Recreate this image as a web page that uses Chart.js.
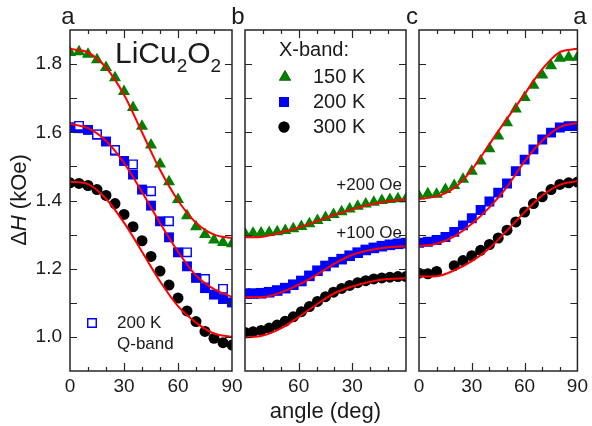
<!DOCTYPE html>
<html>
<head>
<meta charset="utf-8">
<script src="https://cdn.jsdelivr.net/npm/chart.js@4.4.1/dist/chart.umd.min.js"></script>
<style>
  html, body { margin: 0; padding: 0; background: #fff; }
  #wrap { position: relative; width: 592px; height: 426px; }
  #wrap canvas { position: absolute; left: 0; top: 0; }
</style>
</head>
<body>
<div id="wrap">
  <canvas id="panelA" width="592" height="426"></canvas>
  <canvas id="panelB" width="592" height="426"></canvas>
  <canvas id="panelC" width="592" height="426"></canvas>
</div>
<script>
// angles (deg)
var angles = [0, 5, 10, 15, 20, 25, 30, 35, 40, 45, 50, 55, 60, 65, 70, 75, 80, 85, 90];
var qbandAngles = [5, 15, 25, 35, 45, 55, 65, 75, 85];
var fitAngles = [0, 10, 20, 30, 40, 50, 60, 70, 80, 90];
var anglesB = [0, 4.5, 9, 13.5, 18, 22.5, 27, 31.5, 36, 40.5, 45, 49.5, 54, 58.5, 63, 67.5, 72, 76.5, 81, 85.5, 90];
var blackCAngles = [0, 5, 10, 20, 25, 30, 35, 40, 45, 50, 55, 60, 65, 70, 75, 80, 85, 90];

// panel a  (ΔH, kOe)
var green150A = [1.834, 1.836, 1.829, 1.813, 1.79, 1.76, 1.72, 1.673, 1.618, 1.563, 1.507, 1.455, 1.403, 1.355, 1.323, 1.3, 1.284, 1.277, 1.273];
var blue200A = [1.615, 1.612, 1.607, 1.593, 1.573, 1.546, 1.516, 1.476, 1.432, 1.385, 1.339, 1.292, 1.248, 1.207, 1.173, 1.143, 1.124, 1.111, 1.101];
var black300A = [1.452, 1.45, 1.444, 1.432, 1.415, 1.391, 1.359, 1.323, 1.282, 1.236, 1.193, 1.152, 1.114, 1.076, 1.045, 1.016, 0.996, 0.983, 0.976];
var qband200A = [1.619, 1.594, 1.548, 1.506, 1.427, 1.339, 1.248, 1.17, 1.141];
var fit150A = [1.844, 1.834, 1.79, 1.71, 1.6, 1.49, 1.40, 1.335, 1.3, 1.29];
var fit200A = [1.625, 1.612, 1.575, 1.51, 1.425, 1.334, 1.25, 1.18, 1.14, 1.117];
var fit300A = [1.455, 1.448, 1.405, 1.335, 1.25, 1.163, 1.09, 1.042, 1.01, 1.0];

// panel b (angle axis runs 90 -> 0)
var green150B = [1.405, 1.405, 1.403, 1.4, 1.395, 1.39, 1.383, 1.375, 1.367, 1.359, 1.35, 1.341, 1.332, 1.324, 1.317, 1.312, 1.308, 1.306, 1.305, 1.304, 1.303];
var blue200B = [1.275, 1.273, 1.27, 1.266, 1.261, 1.255, 1.247, 1.238, 1.228, 1.219, 1.208, 1.194, 1.179, 1.164, 1.153, 1.143, 1.136, 1.131, 1.128, 1.127, 1.127];
var black300B = [1.177, 1.177, 1.175, 1.173, 1.17, 1.165, 1.159, 1.151, 1.142, 1.131, 1.118, 1.104, 1.089, 1.074, 1.059, 1.046, 1.035, 1.026, 1.019, 1.015, 1.013];
var fit150B = [1.403, 1.398, 1.388, 1.374, 1.358, 1.339, 1.321, 1.306, 1.294, 1.292];
var fit200B = [1.266, 1.263, 1.255, 1.241, 1.215, 1.182, 1.153, 1.13, 1.117, 1.116];
var fit300B = [1.172, 1.17, 1.162, 1.148, 1.128, 1.095, 1.058, 1.025, 1.004, 0.998];

// panel c
var green150C = [1.413, 1.42, 1.418, 1.432, 1.444, 1.462, 1.486, 1.516, 1.552, 1.589, 1.628, 1.668, 1.702, 1.738, 1.768, 1.795, 1.817, 1.82, 1.82];
var blue200C = [1.276, 1.279, 1.284, 1.293, 1.308, 1.327, 1.348, 1.372, 1.397, 1.423, 1.45, 1.486, 1.52, 1.55, 1.579, 1.599, 1.614, 1.618, 1.618];
var black300C = [1.187, 1.185, 1.192, 1.209, 1.224, 1.238, 1.254, 1.271, 1.29, 1.313, 1.337, 1.366, 1.391, 1.411, 1.432, 1.447, 1.452, 1.454];
var fit150C = [1.405, 1.412, 1.437, 1.49, 1.565, 1.64, 1.712, 1.785, 1.835, 1.845];
var fit200C = [1.266, 1.273, 1.295, 1.332, 1.38, 1.44, 1.515, 1.575, 1.615, 1.627];
var fit300C = [1.177, 1.178, 1.195, 1.222, 1.26, 1.312, 1.366, 1.415, 1.446, 1.457];

// ticks and labels
var yTickLabels = [1.0, 1.2, 1.4, 1.6, 1.8];
var yTickMarks = [1.0, 1.1, 1.2, 1.3, 1.4, 1.5, 1.6, 1.7, 1.8];
var xTickMarks = [10, 20, 30, 40, 50, 60, 70, 80];
var xMajor = [0, 30, 60, 90];
var xTicksA = [0, 30, 60, 90];
var xTicksB = [60, 30];
var xTicksC = [0, 30, 60, 90];
var seriesLabels = ['150 K', '200 K', '300 K'];

var FONT = "'Liberation Sans', Arial, sans-serif";
var INK = '#1a1a1a';
var GREEN = '#008000', BLUE = '#0000ff', BLACK = '#000000', RED = '#ff0000';
Chart.defaults.font.family = FONT;

function pts(xs, ys) {
  return xs.map(function (x, i) { return { x: x, y: ys[i] }; });
}

function markers(label, xs, ys, color, style, r) {
  return {
    label: label, data: pts(xs, ys), showLine: false,
    pointStyle: style, pointRadius: r, pointHoverRadius: r,
    backgroundColor: color, borderColor: color, borderWidth: 0, clip: 0
  };
}

function fitLine(xs, ys, rev) {
  var d = pts(xs, ys);
  if (rev) d = d.reverse(); // keep pixel order increasing on the reversed axis
  return {
    data: d, showLine: true, borderColor: RED, borderWidth: 2,
    pointRadius: 0, cubicInterpolationMode: 'monotone', fill: false, clip: 0
  };
}

// frame with inward ticks on all four sides
var frameTicks = {
  id: 'frameTicks',
  afterDatasetsDraw: function (chart) {
    var ctx = chart.ctx, a = chart.chartArea, x = chart.scales.x, y = chart.scales.y;
    ctx.save();
    ctx.strokeStyle = '#262626';
    ctx.lineWidth = 1.5;
    ctx.strokeRect(a.left, a.top, a.right - a.left, a.bottom - a.top);
    ctx.lineWidth = 1.2;
    ctx.beginPath();
    xTickMarks.forEach(function (v) {
      var px = Math.round(x.getPixelForValue(v)) + 0.5;
      var len = xMajor.indexOf(v) >= 0 ? 8 : 4;
      ctx.moveTo(px, a.bottom); ctx.lineTo(px, a.bottom - len);
      ctx.moveTo(px, a.top); ctx.lineTo(px, a.top + len);
    });
    yTickMarks.forEach(function (v) {
      var py = Math.round(y.getPixelForValue(v)) + 0.5;
      ctx.moveTo(a.left, py); ctx.lineTo(a.left + 7, py);
      ctx.moveTo(a.right, py); ctx.lineTo(a.right - 7, py);
    });
    ctx.stroke();
    ctx.restore();
  }
};

function drawRuns(ctx, runs, x, y, align) {
  var total = 0;
  runs.forEach(function (r) {
    ctx.font = (r.italic ? 'italic ' : '') + r.size + 'px ' + FONT;
    r.w = ctx.measureText(r.t).width;
    total += r.w;
  });
  var cx = align === 'center' ? x - total / 2 : (align === 'right' ? x - total : x);
  runs.forEach(function (r) {
    ctx.font = (r.italic ? 'italic ' : '') + r.size + 'px ' + FONT;
    ctx.textAlign = 'left';
    ctx.fillText(r.t, cx, y + (r.dy || 0));
    cx += r.w;
  });
}

// texts, symbols and legends
var notes = {
  id: 'notes',
  afterDraw: function (chart, args, opts) {
    var ctx = chart.ctx;
    (opts.items || []).forEach(function (it) {
      ctx.save();
      ctx.fillStyle = INK;
      if (it.sym) {
        Chart.helpers.drawPoint(ctx, {
          pointStyle: it.sym, radius: it.r, rotation: 0,
          borderWidth: it.bw || 0
        }, it.x, it.y);
        ctx.fillStyle = it.fill;
        ctx.strokeStyle = it.stroke || it.fill;
        ctx.lineWidth = it.bw || 0;
        ctx.fill();
        if (it.bw) ctx.stroke();
      } else if (it.runs) {
        ctx.textBaseline = it.baseline || 'alphabetic';
        if (it.rotate) {
          ctx.translate(it.x, it.y);
          ctx.rotate(it.rotate);
          drawRuns(ctx, it.runs, 0, 0, it.align);
        } else {
          drawRuns(ctx, it.runs, it.x, it.y, it.align);
        }
      } else {
        ctx.font = it.size + 'px ' + FONT;
        ctx.textAlign = it.align || 'left';
        ctx.textBaseline = 'middle';
        ctx.fillText(it.text, it.x, it.y);
      }
      ctx.restore();
    });
  }
};

function makePanel(id, cfg) {
  return new Chart(document.getElementById(id), {
    type: 'scatter',
    data: { datasets: cfg.datasets },
    options: {
      responsive: false,
      animation: false,
      events: [],
      layout: { padding: { left: cfg.left, right: cfg.right, top: 30, bottom: 0 } },
      plugins: {
        legend: { display: false },
        tooltip: { enabled: false },
        notes: { items: cfg.notes }
      },
      scales: {
        x: {
          type: 'linear', min: 0, max: 90, reverse: !!cfg.reverse,
          grid: { display: false, drawTicks: false },
          border: { display: false },
          ticks: {
            autoSkip: false, maxRotation: 0, padding: 4, color: INK,
            font: { size: 19 },
            callback: function (v) { return String(v); }
          },
          afterBuildTicks: function (s) { s.ticks = cfg.xTicks.map(function (v) { return { value: v }; }); },
          afterFit: function (s) { s.height = 55; },
          title: cfg.xTitle ? {
            display: true, text: cfg.xTitle, color: INK,
            font: { size: 22 }, padding: { top: 0, bottom: 1 }
          } : { display: false }
        },
        y: {
          type: 'linear', min: 0.9, max: 1.9, display: !!cfg.showY,
          grid: { display: false, drawTicks: false },
          border: { display: false },
          ticks: {
            padding: 8, color: INK, font: { size: 19 },
            callback: function (v) { return v.toFixed(1); }
          },
          afterBuildTicks: function (s) { s.ticks = yTickLabels.map(function (v) { return { value: v }; }); },
          afterFit: function (s) { s.width = cfg.showY ? 70 : 0; }
        }
      }
    },
    plugins: [frameTicks, notes]
  });
}

makePanel('panelA', {
  left: 0, right: 360, showY: true, xTicks: xTicksA,
  datasets: [
    fitLine(fitAngles, fit150A),
    fitLine(fitAngles, fit200A),
    fitLine(fitAngles, fit300A),
    Object.assign(markers('200 K Q-band', qbandAngles, qband200A, '#ffffff', 'rect', 6), { borderColor: BLUE, borderWidth: 1.4 }),
    markers(seriesLabels[0], angles, green150A, GREEN, 'triangle', 7),
    markers(seriesLabels[1], angles, blue200A, BLUE, 'rect', 7),
    markers(seriesLabels[2], angles, black300A, BLACK, 'circle', 5.5)
  ],
  notes: [
    { text: 'a', x: 68, y: 17, size: 24, align: 'center' },
    { runs: [{ t: 'LiCu', size: 30 }, { t: '2', size: 19, dy: 9 }, { t: 'O', size: 30 }, { t: '2', size: 19, dy: 9 }], x: 115, y: 63 },
    { sym: 'rect', r: 6, x: 92, y: 323, fill: '#ffffff', stroke: BLUE, bw: 1.4 },
    { text: '200 K', x: 117, y: 323, size: 17 },
    { text: 'Q-band', x: 117, y: 344, size: 17 },
    { runs: [{ t: '\u0394', size: 22 }, { t: 'H', size: 22, italic: true }, { t: ' (kOe)', size: 22 }],
      x: 20, y: 200, align: 'center', baseline: 'middle', rotate: -Math.PI / 2 }
  ]
});

makePanel('panelB', {
  left: 245, right: 186, reverse: true, xTicks: xTicksB, xTitle: 'angle (deg)',
  datasets: [
    fitLine(fitAngles, fit150B, true),
    fitLine(fitAngles, fit200B, true),
    fitLine(fitAngles, fit300B, true),
    markers(seriesLabels[0], anglesB, green150B, GREEN, 'triangle', 7),
    markers(seriesLabels[1], anglesB, blue200B, BLUE, 'rect', 7.5),
    markers(seriesLabels[2], anglesB, black300B, BLACK, 'circle', 5.5)
  ],
  notes: [
    { text: 'b', x: 238, y: 17, size: 24, align: 'center' },
    { text: 'X-band:', x: 279, y: 50, size: 20 },
    { sym: 'triangle', r: 7, x: 285, y: 77, fill: GREEN },
    { text: seriesLabels[0], x: 313, y: 77, size: 20 },
    { sym: 'rect', r: 7, x: 284, y: 102, fill: BLUE },
    { text: seriesLabels[1], x: 313, y: 102, size: 20 },
    { sym: 'circle', r: 5.5, x: 284, y: 127, fill: BLACK },
    { text: seriesLabels[2], x: 313, y: 127, size: 20 },
    { text: '+200 Oe', x: 402, y: 185, size: 17, align: 'right' },
    { text: '+100 Oe', x: 402, y: 233, size: 17, align: 'right' }
  ]
});

makePanel('panelC', {
  left: 419, right: 11, xTicks: xTicksC,
  datasets: [
    fitLine(fitAngles, fit150C),
    fitLine(fitAngles, fit200C),
    fitLine(fitAngles, fit300C),
    markers(seriesLabels[0], angles, green150C, GREEN, 'triangle', 7),
    markers(seriesLabels[1], angles, blue200C, BLUE, 'rect', 7),
    markers(seriesLabels[2], blackCAngles, black300C, BLACK, 'circle', 5.5)
  ],
  notes: [
    { text: 'c', x: 412, y: 17, size: 24, align: 'center' },
    { text: 'a', x: 580, y: 17, size: 24, align: 'center' }
  ]
});
</script>
</body>
</html>
